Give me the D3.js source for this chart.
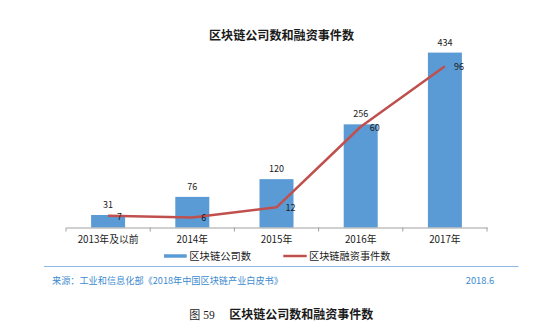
<!DOCTYPE html>
<html><head><meta charset="utf-8">
<script src="https://cdn.jsdelivr.net/npm/d3@7"></script>
<style>
html,body{margin:0;padding:0;background:#fff;}
svg{display:block;font-family:"Noto Sans CJK SC","Noto Sans",sans-serif;}
</style></head>
<body>
<svg id="c" width="550" height="326"></svg>
<script>
const categories = ["2013年及以前","2014年","2015年","2016年","2017年"];
const companies = [31, 76, 120, 256, 434];
const financing = [7, 6, 12, 60, 96];
const seriesNames = ["区块链公司数","区块链融资事件数"];
const titleText = "区块链公司数和融资事件数";
const sourceText = "来源：工业和信息化部《2018年中国区块链产业白皮书》";
const dateText = "2018.6";
const captionLabel = "图";
const captionNum = "59";
const captionText = "区块链公司数和融资事件数";

(function(){
const svg = d3.select("#c");
const pLeft = 66, pRight = 487, pTop = 26, pBottom = 227.5;
const xb = d3.scaleBand().domain(categories).range([pLeft, pRight]);
const y1 = d3.scaleLinear().domain([0, 500]).range([pBottom, pTop]);
const y2 = d3.scaleLinear().domain([0, 120]).range([pBottom, pTop]);
const blue = "#5b9bd5", red = "#c0504d", ink = "#1a1a1a";
const cx = c => xb(c) + xb.bandwidth()/2;

function fit(sel, w){
  const n = sel.node();
  const fs = parseFloat(sel.attr("font-size"));
  const len = n.getComputedTextLength();
  if (len > 0) sel.attr("font-size", (fs * w / len).toFixed(2));
  return sel;
}

// title
fit(svg.append("text").attr("x", 281.5).attr("y", 39.5).attr("text-anchor", "middle")
  .attr("font-size", 12).attr("font-weight", "bold").attr("fill", ink).text(titleText), 145);

// bars
const bw = 34;
svg.selectAll("rect.bar").data(companies).join("rect").attr("class","bar")
  .attr("x", (d,i) => cx(categories[i]) - bw/2)
  .attr("width", bw)
  .attr("y", d => y1(d)).attr("height", d => pBottom - y1(d))
  .attr("fill", blue);

svg.selectAll("text.bl").data(companies).join("text").attr("class","bl")
  .attr("x", (d,i) => cx(categories[i]))
  .attr("y", d => y1(d) - 7)
  .attr("text-anchor","middle").attr("font-size", 9).attr("fill",ink).text(d => d);

// axis
const axis = d3.axisBottom(xb).tickSize(0).tickSizeOuter(0).tickFormat(()=>"");
const gx = svg.append("g").attr("transform", `translate(0,${pBottom})`).call(axis);
gx.select(".domain").attr("stroke","#a0a0a0");
gx.selectAll(".tick").remove();
const bounds = categories.map(c => xb(c)).concat([pRight]);
svg.selectAll("line.tk").data(bounds).join("line").attr("class","tk")
  .attr("x1", d=>d).attr("x2", d=>d).attr("y1", pBottom).attr("y2", pBottom+4)
  .attr("stroke","#a0a0a0");
svg.selectAll("text.xl").data(categories).join("text").attr("class","xl")
  .attr("x", d => cx(d)).attr("y", pBottom + 15.5)
  .attr("text-anchor","middle").attr("font-size", 9.8).attr("fill",ink).text(d => d);

// line
const line = d3.line().x((d,i) => cx(categories[i])).y(d => y2(d));
svg.append("path").datum(financing).attr("d", line).attr("fill","none")
  .attr("stroke", red).attr("stroke-width", 2.5).attr("stroke-linejoin","round");
svg.selectAll("text.ll").data(financing).join("text").attr("class","ll")
  .attr("x", (d,i) => cx(categories[i]) + 9)
  .attr("y", d => y2(d) + 4)
  .attr("font-size", 9).attr("fill",ink).text(d => d);

// legend
const lg = svg.append("g");
lg.append("line").attr("x1",164).attr("x2",186.7).attr("y1",256).attr("y2",256).attr("stroke",blue).attr("stroke-width",3.5);
fit(lg.append("text").attr("x",189.3).attr("y",259.8).attr("font-size",10.2).attr("fill",ink).text(seriesNames[0]), 61.7);
lg.append("line").attr("x1",283.3).attr("x2",306.7).attr("y1",256).attr("y2",256).attr("stroke",red).attr("stroke-width",2.5);
lg.append("text").attr("x",309).attr("y",259.8).attr("font-size",10.2).attr("fill",ink).text(seriesNames[1]);

// separator
svg.append("line").attr("x1",44).attr("x2",518.5).attr("y1",266.5).attr("y2",266.5).attr("stroke","#8db8e4").attr("stroke-width",1);

// source
fit(svg.append("text").attr("x",52).attr("y",283.5).attr("font-size",9.6).attr("fill","#3d8bd0").text(sourceText), 231);
fit(svg.append("text").attr("x",465.7).attr("y",283.5).attr("font-size",9.4).attr("fill","#3d8bd0").text(dateText), 28.6);

// caption
const cap = svg.append("text").attr("x",189.3).attr("y",319).attr("fill",ink);
cap.append("tspan").attr("font-size",11).text(captionLabel);
cap.append("tspan").attr("dx",3).attr("font-size",11.5).attr("font-family","'Liberation Serif','DejaVu Serif',serif").text(captionNum);
fit(svg.append("text").attr("x",229.3).attr("y",319).attr("font-size",12).attr("font-weight","bold").attr("fill",ink).text(captionText), 144);
})();
</script>
</body></html>
